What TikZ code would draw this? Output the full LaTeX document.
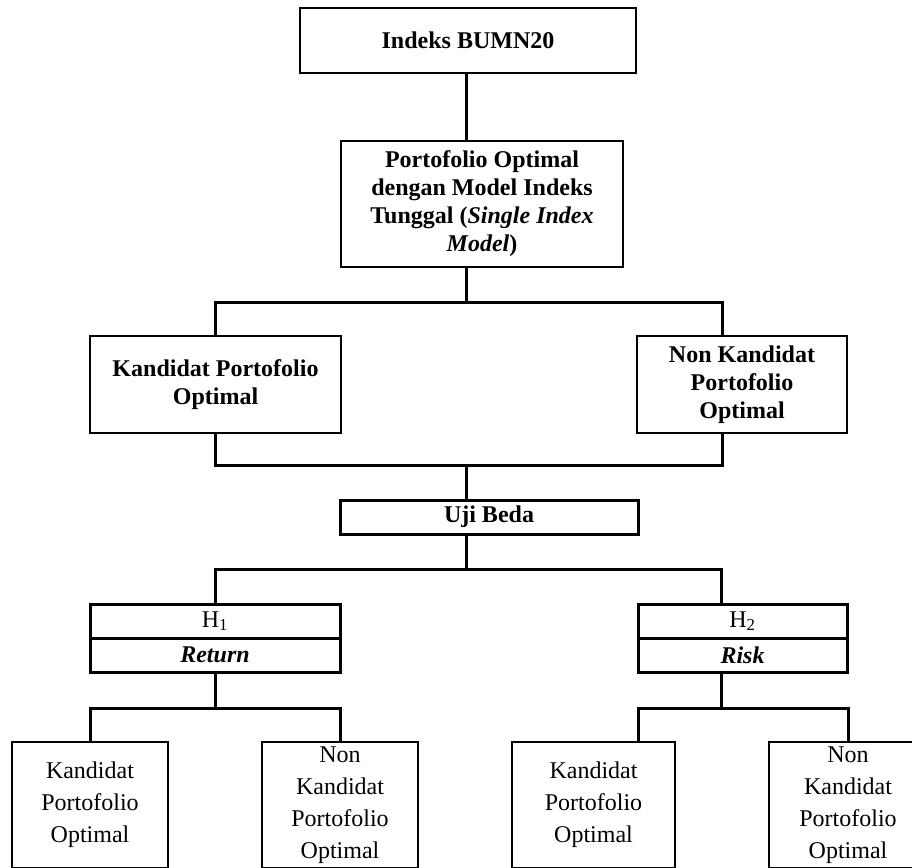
\documentclass[tikz,border=0pt]{standalone}
\usepackage{fontspec}
\setmainfont{Liberation Serif}
\usetikzlibrary{positioning}

\tikzstyle{box}=[shape=rectangle,draw,line width=2.5pt,inner sep=0pt,align=center,font=\fontsize{24}{28}\selectfont\bfseries]
\tikzstyle{hbox}=[box,line width=3pt,minimum height=34pt]
\tikzstyle{leaf}=[box,line width=2pt,minimum width=156pt,minimum height=126pt,font=\fontsize{24}{32}\selectfont]
\tikzstyle{link}=[line width=3pt]

\begin{document}
\begin{tikzpicture}[x=1pt,y=-1pt]
\useasboundingbox (0,0) rectangle (912,867);
% upper boxes
\node[box,minimum width=336pt,minimum height=65pt] (top) at (468,40.5) {Indeks BUMN20};
\node[box,minimum width=282pt,minimum height=126pt] (port) at (482,204)
    {Portofolio Optimal\\dengan Model Indeks\\Tunggal (\textit{Single Index}\\\textit{Model})};
\node[box,minimum width=251pt,minimum height=97pt] (kand) at (215.5,384.5) {Kandidat Portofolio\\Optimal};
\node[box,minimum width=210pt,minimum height=97pt] (nonk) at (742,384.5) {Non Kandidat\\Portofolio\\Optimal};
\node[hbox,minimum width=298pt] (uji) at (489,517) {Uji Beda};
% hypotheses
\node[hbox,minimum width=250pt,font=\fontsize{24}{28}\selectfont] (h1) at (215,621) {H\textsubscript{1}};
\node[hbox,minimum width=250pt] (ret) at (215,655) {\textit{Return}};
\node[hbox,minimum width=209pt,font=\fontsize{24}{28}\selectfont] (h2) at (742.5,621) {H\textsubscript{2}};
\node[hbox,minimum width=209pt] (risk) at (742.5,655) {\textit{Risk}};
% leaves
\node[leaf] (b1) at (90,805) {Kandidat\\Portofolio\\Optimal};
\node[leaf] (b2) at (340,805) {Non\\Kandidat\\Portofolio\\Optimal};
\node[leaf,minimum width=163pt] (b3) at (593.5,805) {Kandidat\\Portofolio\\Optimal};
\node[leaf,minimum width=158pt] (b4) at (848,805) {Non\\Kandidat\\Portofolio\\Optimal};
% junctions
\coordinate (mid1) at (466,302);
\coordinate (mid2) at (466,465);
\coordinate (mid3) at (466,569);
\coordinate (rgt) at (722,0);
\coordinate (jl) at (215,708);
\coordinate (jr) at (721,708);
\coordinate (d3) at (638,708);
% connectors
\draw[link] (top.south -| mid1) -- (port.north -| mid1);
\draw[link] (port.south -| mid1) -- (mid1);
\draw[link] (kand.north) |- (mid1) -| (nonk.north -| rgt);
\draw[link] (kand.south) |- (mid2) -| (nonk.south -| rgt);
\draw[link] (mid2) -- (uji.north -| mid2);
\draw[link] (uji.south -| mid2) -- (mid3);
\draw[link] (h1.north) |- (mid3) -| (h2.north -| jr);
\draw[link] (ret.south) -- (jl);
\draw[link] (b1.north) |- (jl) -| (b2.north);
\draw[link] (risk.south -| jr) -- (jr);
\draw[link] (b3.north -| d3) |- (jr) -| (b4.north);
\end{tikzpicture}
\end{document}
